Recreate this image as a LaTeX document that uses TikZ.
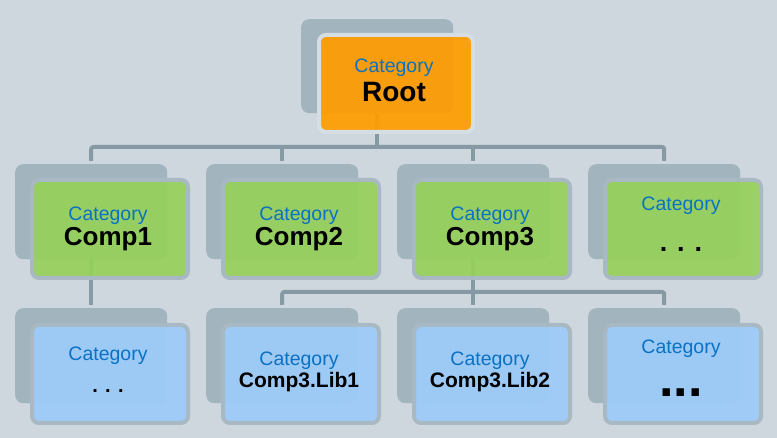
\documentclass[tikz,border=0pt]{standalone}
\usepackage{fontspec}
\setmainfont{Liberation Sans}
\definecolor{bg}{HTML}{CDD7DD}
\definecolor{shd}{HTML}{A2B5BF}
\definecolor{frm}{HTML}{A8B9C3}
\definecolor{frmroot}{HTML}{D5DEE3}
\definecolor{linec}{HTML}{8799A2}
\definecolor{orangefill}{HTML}{FF9C00}
\definecolor{greenfill}{HTML}{97D05B}
\definecolor{bluefill}{HTML}{9DCBFA}
\definecolor{catblue}{HTML}{0A72C4}
\tikzset{
  shadowbox/.style={rectangle, rounded corners=8pt, fill=shd, minimum width=152pt, minimum height=95pt, inner sep=0pt, anchor=north west},
  frontbox/.style={rectangle, rounded corners=7pt, draw=frm, line width=4pt, fill opacity=0.93, minimum width=156pt, minimum height=98pt, inner sep=0pt, anchor=north west},
  cat/.style={text=catblue, font=\fontsize{19.5}{20}\selectfont, anchor=base, inner sep=0pt},
  title/.style={font=\bfseries\fontsize{26}{28}\selectfont, anchor=base, inner sep=0pt},
  libtitle/.style={font=\bfseries\fontsize{21}{23}\selectfont, anchor=base, inner sep=0pt},
  conn/.style={draw=linec, line width=4pt, line join=round, rounded corners=2pt},
}
\begin{document}
\begin{tikzpicture}[x=1pt, y=-1pt]
\fill[bg] (0,0) rectangle (777,438);
\useasboundingbox (0,0) rectangle (777,438);
% shadows
\node[shadowbox, minimum height=94pt] (sR) at (301,19) {};
\node[shadowbox] (sA) at (15,164) {};
\node[shadowbox] (sB) at (206,164) {};
\node[shadowbox] (sC) at (397,164) {};
\node[shadowbox] (sD) at (588,164) {};
\node[shadowbox] (sE) at (15,308) {};
\node[shadowbox] (sF) at (206,308) {};
\node[shadowbox] (sG) at (397,308) {};
\node[shadowbox] (sH) at (588,308) {};
% connectors
\coordinate (bus1) at (0,147);
\coordinate (bus2) at (0,292);
\draw[conn] (sR.south) -- (sR.south |- bus1);
\draw[conn] ([yshift=3pt]sA.north) |- (bus1 -| sD.north) -- ([yshift=3pt]sD.north);
\draw[conn] ([yshift=3pt]sB.north) -- (sB.north |- bus1);
\draw[conn] ([yshift=3pt]sC.north) -- (sC.north |- bus1);
\draw[conn] (sA.south) -- ([yshift=3pt]sE.north);
\draw[conn] (sC.south) -- (sC.south |- bus2);
\draw[conn] ([yshift=3pt]sF.north) |- (bus2 -| sH.north) -- ([yshift=3pt]sH.north);
\draw[conn] ([yshift=3pt]sG.north) -- (sG.north |- bus2);
% front boxes
\node[frontbox, draw=frmroot, fill=orangefill, minimum width=154pt, minimum height=97pt] (fR) at (317,33) {};
\node[frontbox, fill=greenfill] (fA) at (30,178) {};
\node[frontbox, fill=greenfill] (fB) at (221,178) {};
\node[frontbox, fill=greenfill] (fC) at (412,178) {};
\node[frontbox, fill=greenfill] (fD) at (603,178) {};
\node[frontbox, fill=bluefill] (fE) at (30,323) {};
\node[frontbox, fill=bluefill] (fF) at (221,323) {};
\node[frontbox, fill=bluefill] (fG) at (412,323) {};
\node[frontbox, fill=bluefill] (fH) at (603,323) {};
% texts
\node[cat] (cR) at (394,73) {Category};
\node[title, font=\bfseries\fontsize{28}{30}\selectfont] (tR) at (394,102) {Root};
\node[cat] (cA) at (108,221) {Category};
\node[title] (tA) at (108,246) {Comp1};
\node[cat] (cB) at (299,221) {Category};
\node[title] (tB) at (299,246) {Comp2};
\node[cat] (cC) at (490,221) {Category};
\node[title] (tC) at (490,246) {Comp3};
\node[cat] (cD) at (681,211) {Category};
\node[title, font=\bfseries\fontsize{27}{29}\selectfont] (tD) at (681,252) {. . .};
\node[cat] (cE) at (108,361) {Category};
\node[anchor=base, inner sep=0pt, font=\bfseries\fontsize{20}{22}\selectfont] (tE) at (108,393) {. . .};
\node[cat] (cF) at (299,366) {Category};
\node[libtitle] (tF) at (299,388) {Comp3.Lib1};
\node[cat] (cG) at (490,366) {Category};
\node[libtitle] (tG) at (490,388) {Comp3.Lib2};
\node[cat] (cH) at (681,354) {Category};
\node[anchor=base, inner sep=0pt, font=\bfseries\fontsize{52}{54}\selectfont] (tH) at (681,397) {...};
\end{tikzpicture}
\end{document}
